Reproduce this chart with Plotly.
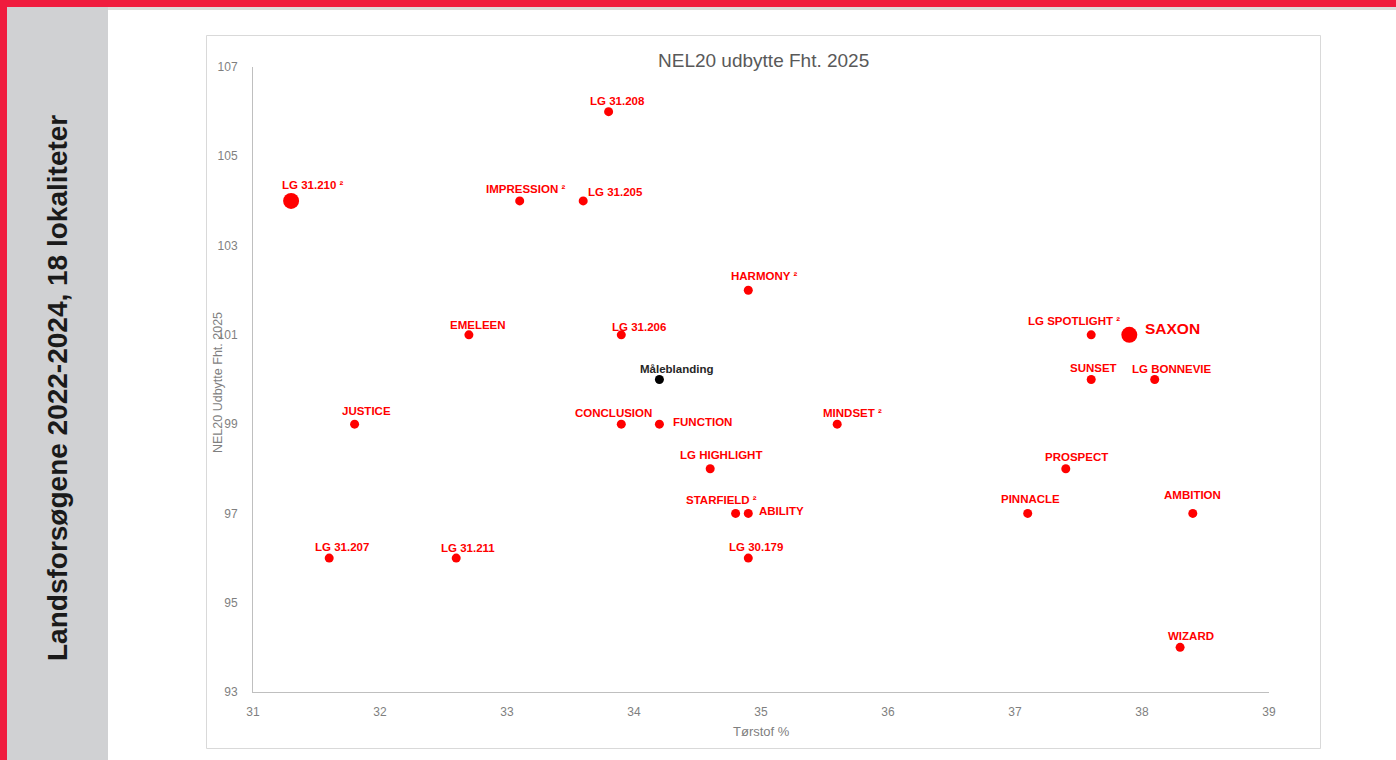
import plotly.graph_objects as go

# ---- data ----
names = ["LG 31.210", "IMPRESSION", "LG 31.205", "LG 31.208", "HARMONY", "EMELEEN",
         "LG 31.206", "Måleblanding", "JUSTICE", "CONCLUSION", "FUNCTION", "MINDSET",
         "LG HIGHLIGHT", "STARFIELD", "ABILITY", "LG 30.179", "LG 31.207", "LG 31.211",
         "LG SPOTLIGHT", "SAXON", "SUNSET", "LG BONNEVIE", "PROSPECT", "PINNACLE",
         "AMBITION", "WIZARD"]
torstof = [31.3, 33.1, 33.6, 33.8, 34.9, 32.7,
           33.9, 34.2, 31.8, 33.9, 34.2, 35.6,
           34.6, 34.8, 34.9, 34.9, 31.6, 32.6,
           37.6, 37.9, 37.6, 38.1, 37.4, 37.1,
           38.4, 38.3]
udbytte = [104, 104, 104, 106, 102, 101,
           101, 100, 99, 99, 99, 99,
           98, 97, 97, 96, 96, 96,
           101, 101, 100, 100, 98, 97,
           97, 94]
footnote2 = {"LG 31.210", "IMPRESSION", "HARMONY", "MINDSET", "STARFIELD", "LG SPOTLIGHT"}
highlight = {"LG 31.210", "SAXON"}
reference = "Måleblanding"

x_ticks = list(range(31, 40))
y_ticks = list(range(93, 108, 2))

# ---- label placement (style) ----
label_style = {
    "LG 31.210": ("c", 22, 16), "IMPRESSION": ("c", 6, 12), "LG 31.205": ("l", 3, 9),
    "LG 31.208": ("c", 9, 11), "HARMONY": ("c", 16, 14), "EMELEEN": ("c", 9, 10),
    "LG 31.206": ("c", 18, 8), "Måleblanding": ("c", 17, 11), "JUSTICE": ("c", 12, 13),
    "CONCLUSION": ("c", -8, 11), "FUNCTION": ("l", 12, 2), "MINDSET": ("c", 15, 11),
    "LG HIGHLIGHT": ("c", 11, 14), "STARFIELD": ("c", -14, 13), "ABILITY": ("l", 9, 2),
    "LG 30.179": ("c", 8, 11), "LG 31.207": ("c", 13, 11), "LG 31.211": ("c", 12, 10),
    "LG SPOTLIGHT": ("c", -17, 14), "SAXON": ("l", 14, 6), "SUNSET": ("c", 2, 12),
    "LG BONNEVIE": ("c", 17, 11), "PROSPECT": ("c", 11, 12), "PINNACLE": ("c", 3, 14),
    "AMBITION": ("c", 0, 18), "WIZARD": ("c", 11, 11),
}

RED = "#ff0000"
W, H = 1396, 760
px_l, px_r, px_t, px_b = 253, 1269, 67, 692
FONT = "Liberation Sans, Arial, sans-serif"

colors = ["#000000" if n == reference else RED for n in names]
sizes = [16 if n in highlight else 9 for n in names]

fig = go.Figure()
fig.add_trace(go.Scatter(
    x=torstof, y=udbytte, mode="markers",
    marker=dict(color=colors, size=sizes, opacity=1, line=dict(width=0)),
    hoverinfo="text", text=names, showlegend=False, cliponaxis=False,
))

annotations = []
for n, xv, yv in zip(names, torstof, udbytte):
    anchor, dx, dy = label_style[n]
    txt = n + (" ²" if n in footnote2 else "")
    fsize = 15.5 if n == "SAXON" else 11.5
    fcol = "#262626" if n == reference else RED
    annotations.append(dict(
        x=xv, y=yv, xref="x", yref="y", text=txt, showarrow=False,
        xanchor="left" if anchor == "l" else "center", yanchor="middle",
        xshift=dx, yshift=dy,
        font=dict(family=FONT, size=fsize, color=fcol, weight="bold"),
    ))

# titles
annotations.append(dict(x=763 / W, y=1 - 60 / H, xref="paper", yref="paper",
                        text="NEL20 udbytte Fht. 2025", showarrow=False,
                        xanchor="center", yanchor="middle",
                        font=dict(family=FONT, size=19, color="#595959")))
annotations.append(dict(x=761 / W, y=1 - 731 / H, xref="paper", yref="paper",
                        text="Tørstof %", showarrow=False, xanchor="center", yanchor="middle",
                        font=dict(family=FONT, size=13, color="#7f7f7f")))
annotations.append(dict(x=218 / W, y=1 - 383 / H, xref="paper", yref="paper",
                        text="NEL20 Udbytte Fht. 2025", showarrow=False, textangle=-90,
                        xanchor="center", yanchor="middle",
                        font=dict(family=FONT, size=12.5, color="#7f7f7f")))
annotations.append(dict(x=57 / W, y=1 - 388 / H, xref="paper", yref="paper",
                        text="Landsforsøgene 2022-2024, 18 lokaliteter", showarrow=False,
                        textangle=-90, xanchor="center", yanchor="middle",
                        font=dict(family=FONT, size=28, color="#1a1a1a", weight="bold")))

shapes = [
    # sidebar
    dict(type="rect", xref="paper", yref="paper", x0=7 / W, x1=108 / W, y0=0, y1=1 - 7 / H,
         fillcolor="#d0d1d3", line=dict(width=0), layer="below"),
    # top red bar
    dict(type="rect", xref="paper", yref="paper", x0=0, x1=1, y0=1 - 7 / H, y1=1,
         fillcolor="#f01c3e", line=dict(width=0), layer="below"),
    # grey line below red bar
    dict(type="rect", xref="paper", yref="paper", x0=108 / W, x1=1, y0=1 - 10 / H, y1=1 - 7 / H,
         fillcolor="#dcdcdc", line=dict(width=0), layer="below"),
    # left red stripe
    dict(type="rect", xref="paper", yref="paper", x0=0, x1=7 / W, y0=0, y1=1,
         fillcolor="#f01c3e", line=dict(width=0), layer="below"),
    # chart box
    dict(type="rect", xref="paper", yref="paper", x0=206.5 / W, x1=1320.5 / W,
         y0=1 - 748.5 / H, y1=1 - 35.5 / H,
         fillcolor="rgba(0,0,0,0)", line=dict(color="#d9d9d9", width=1), layer="below"),
]

fig.update_layout(
    width=W, height=H, autosize=False,
    margin=dict(l=0, r=0, t=0, b=0, pad=0, autoexpand=False),
    paper_bgcolor="white", plot_bgcolor="white",
    annotations=annotations, shapes=shapes,
    xaxis=dict(domain=[px_l / W, px_r / W], range=[31, 39], tickvals=x_ticks, automargin=False,
               showgrid=False, zeroline=False, showline=True, linecolor="#bfbfbf", linewidth=1,
               ticks="", ticklabelstandoff=9,
               tickfont=dict(family=FONT, size=12, color="#7f7f7f")),
    yaxis=dict(domain=[1 - px_b / H, 1 - px_t / H], range=[93, 107], tickvals=y_ticks, automargin=False,
               showgrid=False, zeroline=False, showline=True, linecolor="#bfbfbf", linewidth=1,
               ticks="", ticklabelstandoff=12,
               tickfont=dict(family=FONT, size=12, color="#7f7f7f")),
)

fig.write_html(
    "out.html",
    config={"displayModeBar": False},
    post_script="document.body.style.margin='0';",
)
